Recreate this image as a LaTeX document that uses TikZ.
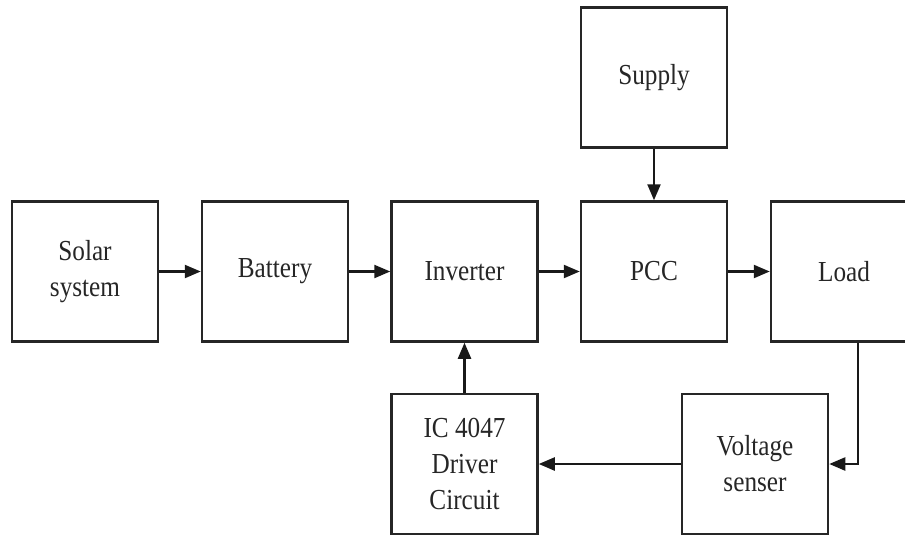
\documentclass[tikz,border=0pt]{standalone}
\usepackage{fontspec}
\setmainfont{Liberation Serif}[FakeStretch=0.87]
\usetikzlibrary{arrows.meta}
\begin{document}
\begin{tikzpicture}[x=1pt,y=-1pt,
  blk/.style={draw=black!85, line width=2.5pt, minimum width=146pt, minimum height=140pt, align=center, inner sep=0pt,
    font=\fontsize{29}{36}\selectfont, text=black!85},
  conn/.style={draw=black!90, line width=2.3pt, -{Triangle[length=16pt,width=13pt]}}]
\useasboundingbox[fill=white] (0,0) rectangle (905,536);
\node[blk] (solar) at (85,271.5) {Solar\\system};
\node[blk] (bat) at (275,271.5) {Battery};
\node[blk] (inv) at (464.5,271.5) {Inverter};
\node[blk] (pcc) at (654,271.5) {PCC};
\node[blk] (load) at (844,271.5) {Load};
\node[blk] (sup) at (654,77.5) {Supply};
\node[blk] (ic) at (464.5,464) {IC 4047\\Driver\\Circuit};
\node[blk] (vs) at (755,464) {Voltage\\senser};
\coordinate (lc) at (858,464);
\draw[conn] (solar) -- (bat);
\draw[conn] (bat) -- (inv);
\draw[conn] (inv) -- (pcc);
\draw[conn] (pcc) -- (load);
\draw[conn] (sup) -- (pcc);
\draw[conn] (ic) -- (inv);
\draw[conn] (vs) -- (ic);
\draw[conn] (load.south -| lc) -- (lc) -- (vs.east);
\end{tikzpicture}
\end{document}
